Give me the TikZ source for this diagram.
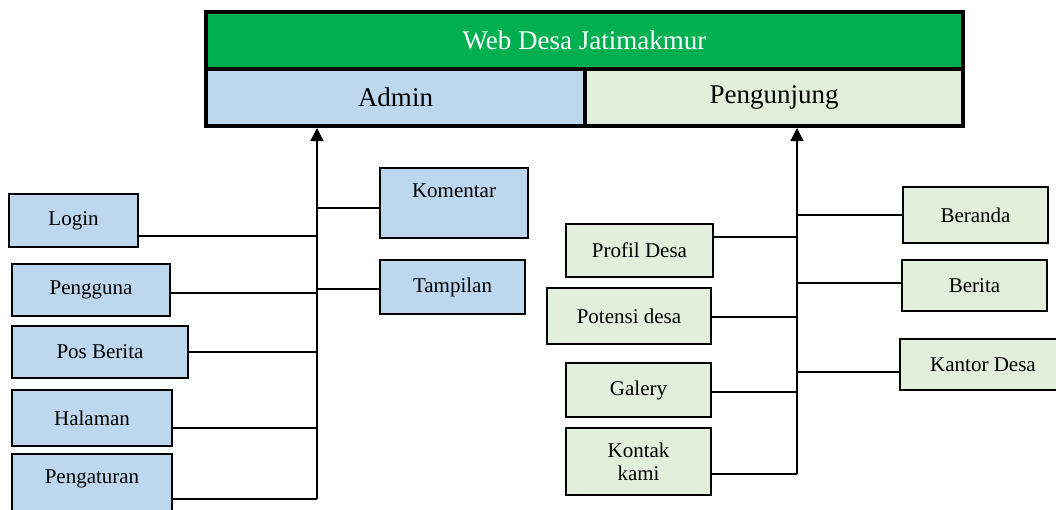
\documentclass[tikz,border=0pt]{standalone}
\usepackage{fontspec}
\setmainfont{Liberation Serif}
\usetikzlibrary{arrows.meta}
\definecolor{headgreen}{HTML}{00B050}
\definecolor{adminblue}{HTML}{BDD7EE}
\definecolor{visitgreen}{HTML}{E2EFDA}

\begin{document}
\begin{tikzpicture}[
  x=1pt, y=-1pt,
  head/.style={draw, line width=4pt, inner sep=0pt, font=\fontsize{27}{32}\selectfont},
  item/.style={draw, line width=1.6pt, inner sep=0pt, align=center, font=\fontsize{21}{25}\selectfont},
  adm/.style={item, fill=adminblue},
  vis/.style={item, fill=visitgreen},
  link/.style={line width=1.3pt},
  arr/.style={link, -{Triangle[length=13pt, width=13pt]}}
]
\useasboundingbox (0,0) rectangle (1056,509);

\node[head, fill=headgreen, text=white, minimum width=757pt, minimum height=56.5pt] (title) at (584.5,40.25) {Web Desa Jatimakmur};
\node[head, fill=adminblue, minimum width=379pt, minimum height=57.5pt] (admin) at (395.5,97.25) {Admin};
\node[head, fill=visitgreen, minimum width=378pt, minimum height=57.5pt] (visitor) at (774,97.25) {Pengunjung};

\node[adm, minimum width=129pt, minimum height=53pt] (login)   at (73.5,220.5) {Login};
\node[adm, minimum width=158pt, minimum height=52pt] (users)   at (91,290)     {Pengguna};
\node[adm, minimum width=176pt, minimum height=52pt] (posts)   at (100,352)    {Pos Berita};
\node[adm, minimum width=160pt, minimum height=56pt] (pages)   at (92,418)     {Halaman};
\node[adm, minimum width=160pt, minimum height=70pt] (setting) at (92,489)     {Pengaturan\\\mbox{}};
\node[adm, minimum width=148pt, minimum height=70pt] (comment) at (454,203)    {Komentar\\\mbox{}};
\node[adm, minimum width=145pt, minimum height=54pt] (theme)   at (452.5,287)  {Tampilan};

\node[vis, minimum width=147pt, minimum height=53pt] (profile) at (639.5,250.5) {Profil Desa};
\node[vis, minimum width=164pt, minimum height=56pt] (potency) at (629,316)     {Potensi desa};
\node[vis, minimum width=145pt, minimum height=54pt] (gallery) at (638.5,390)   {Galery};
\node[vis, minimum width=145pt, minimum height=67pt] (contact) at (638.5,461.5) {Kontak\\[-2pt]kami};
\node[vis, minimum width=145pt, minimum height=56pt] (home)    at (975.5,215)   {Beranda};
\node[vis, minimum width=145pt, minimum height=51pt] (news)    at (974.5,285.5) {Berita};
\node[vis, minimum width=166pt, minimum height=51pt] (office)  at (983,364.5)   {Kantor Desa};

\coordinate (abot) at (317,499);
\coordinate (jlogin)   at (317,236);
\coordinate (jusers)   at (317,293);
\coordinate (jposts)   at (317,352);
\coordinate (jpages)   at (317,428);
\coordinate (jcomment) at (317,208);
\coordinate (jtheme)   at (317,289);

\coordinate (vbot) at (797,474);
\coordinate (jprofile) at (797,237);
\coordinate (jpotency) at (797,317);
\coordinate (jgallery) at (797,392);
\coordinate (jhome)    at (797,215);
\coordinate (jnews)    at (797,283);
\coordinate (joffice)  at (797,372);

\draw[arr] (abot) -- (abot |- admin.south);
\draw[link] (jlogin -| login.east) -- (jlogin);
\draw[link] (jusers -| users.east) -- (jusers);
\draw[link] (jposts -| posts.east) -- (jposts);
\draw[link] (jpages -| pages.east) -- (jpages);
\draw[link] (abot -| setting.east) -- (abot);
\draw[link] (jcomment) -- (jcomment -| comment.west);
\draw[link] (jtheme) -- (jtheme -| theme.west);

\draw[arr] (vbot) -- (vbot |- visitor.south);
\draw[link] (jprofile -| profile.east) -- (jprofile);
\draw[link] (jpotency -| potency.east) -- (jpotency);
\draw[link] (jgallery -| gallery.east) -- (jgallery);
\draw[link] (vbot -| contact.east) -- (vbot);
\draw[link] (jhome) -- (jhome -| home.west);
\draw[link] (jnews) -- (jnews -| news.west);
\draw[link] (joffice) -- (joffice -| office.west);
\end{tikzpicture}
\end{document}
